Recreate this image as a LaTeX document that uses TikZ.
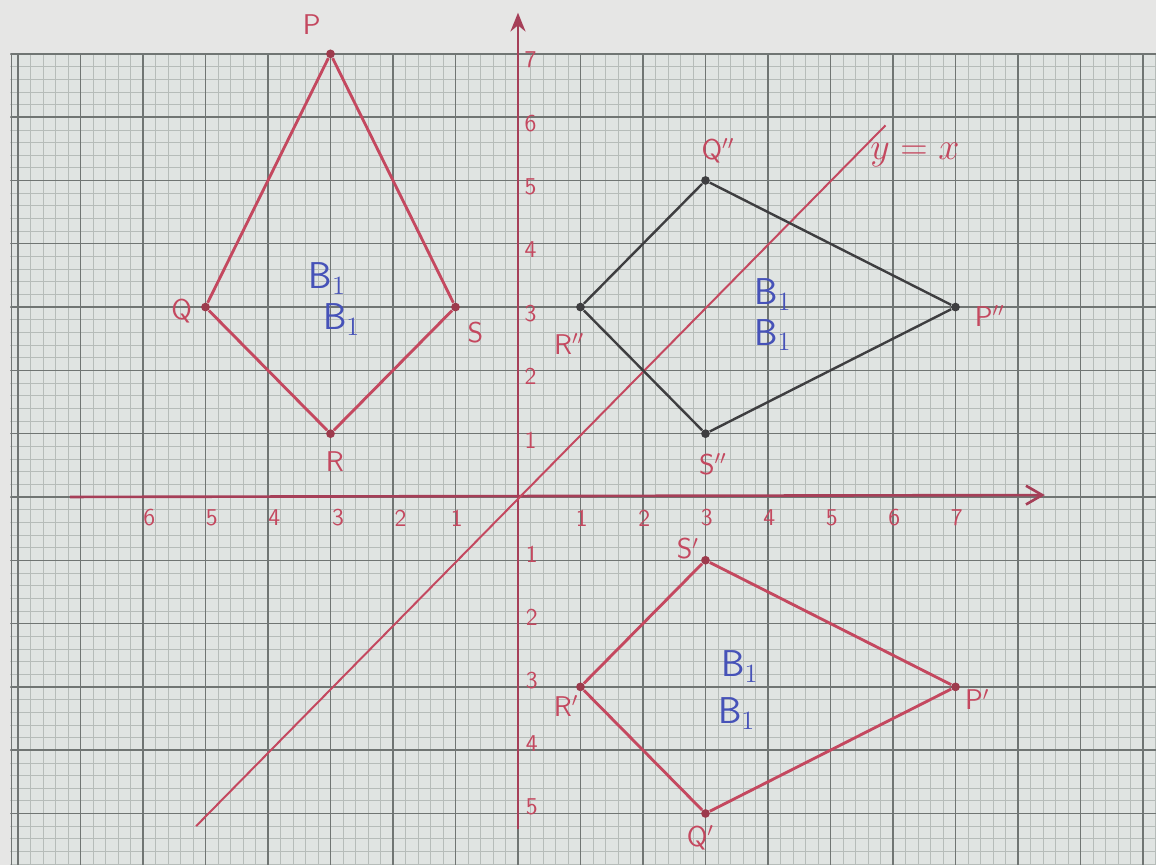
\documentclass[tikz,border=0pt]{standalone}
\usetikzlibrary{arrows.meta}
\definecolor{paper}{HTML}{E0E4E2}
\definecolor{bgtop}{HTML}{E6E6E5}
\definecolor{majorc}{HTML}{707573}
\definecolor{minorc}{HTML}{B6BCB9}
\definecolor{pen}{HTML}{C4485F}
\definecolor{axisc}{HTML}{A63F58}
\definecolor{darkc}{HTML}{3E3E40}
\definecolor{bluepen}{HTML}{4652B8}
\tikzset{
  redside/.style={pen, line width=1.3pt, line join=round},
  darkside/.style={darkc, line width=1.1pt, line join=round},
  reddot/.style={circle, fill=pen!80!black, inner sep=0pt, minimum size=0.14cm},
  darkdot/.style={circle, fill=darkc, inner sep=0pt, minimum size=0.14cm},
  lbl/.style={text=pen, font=\sffamily\fontsize{13}{15}\selectfont, inner sep=0pt},
  tick/.style={text=pen, font=\sffamily\fontsize{11}{13}\selectfont, inner sep=0pt},
  blbl/.style={text=bluepen, font=\sffamily\fontsize{17}{19}\selectfont, inner sep=0pt},
  axisline/.style={axisc, line width=1.2pt}
}
\begin{document}
\begin{tikzpicture}[x=1cm,y=1.0128cm]
\useasboundingbox (-8.288,-5.814) rectangle (10.208,7.851);
\fill[bgtop] (-8.288,-5.814) rectangle (10.208,7.851);
\fill[paper] (-8.1,-5.814) rectangle (10.208,7.0);
\begin{scope}
  \clip (-8.12,-5.814) rectangle (10.208,7.02);
  \draw[minorc, line width=0.28pt, step=0.2] (-8.2,-6) grid (10.4,7.0);
  \draw[majorc, line width=0.65pt, step=1] (-9,-6) grid (11,7);
  \draw[majorc, line width=0.65pt] (-8.1,-6) -- (-8.1,7);
\end{scope}

% axes
\coordinate (xl) at (-7.17,0);
\coordinate (xr) at (8.43,0.03);
\coordinate (yb) at (0,-5.25);
\coordinate (yt) at (0,7.65);
\draw[axisline, -{Straight Barb[length=2.6mm,width=3mm]}] (xl) -- (xr);
\draw[axisline, -{Stealth[length=3mm,width=2.4mm]}] (yb) -- (yt);

% axis numbers
\foreach \v/\x in {6/-5.9,5/-4.9,4/-3.9,3/-2.88,2/-1.88,1/-0.98}
  \node[tick] at (\x,-0.33) {\v};
\foreach \v in {1,...,7}
  \node[tick] at (\v+0.02,-0.33) {\v};
\foreach \v in {1,...,7}
  \node[tick] at (0.2,\v-0.1) {\v};
\foreach \v in {1,...,5}
  \node[tick] at (0.22,-\v+0.1) {\v};

% y = x
\coordinate (ya) at (-5.15,-5.2);
\coordinate (yb2) at (5.88,5.87);
\draw[pen, line width=0.9pt] (ya) -- (yb2);
\node[text=pen, font=\fontsize{19}{21}\selectfont, inner sep=0pt] (yx) at (6.35,5.4) {$y=x$};

% shape PQRS
\node[reddot] (P) at (-3,7) {};
\node[reddot] (Q) at (-5,3) {};
\node[reddot] (R) at (-3,1) {};
\node[reddot] (S) at (-1,3) {};
\draw[redside] (P) -- (S) -- (R) -- (Q) -- (P);
\node[lbl] (lP) at (-3.3,7.47) {P};
\node[lbl] (lQ) at (-5.38,2.94) {Q};
\node[lbl] (lR) at (-2.93,0.56) {R};
\node[lbl] (lS) at (-0.68,2.6) {S};
\node[blbl] (b1) at (-3.05,3.45) {B$_1$};
\node[blbl] (b2) at (-2.82,2.8) {B$_1$};

% shape P''Q''R''S''
\node[darkdot] (P2) at (7,3) {};
\node[darkdot] (Q2) at (3,5) {};
\node[darkdot] (R2) at (1,3) {};
\node[darkdot] (S2) at (3,1) {};
\draw[darkside] (Q2) -- (P2) -- (S2) -- (R2) -- (Q2);
\node[lbl] (lQ2) at (3.2,5.47) {Q$''$};
\node[lbl] (lP2) at (7.55,2.86) {P$''$};
\node[lbl] (lR2) at (0.82,2.42) {R$''$};
\node[lbl] (lS2) at (3.12,0.52) {S$''$};
\node[blbl] (b3) at (4.08,3.2) {B$_1$};
\node[blbl] (b4) at (4.08,2.56) {B$_1$};

% shape P'Q'R'S'
\node[reddot] (P1) at (7,-3) {};
\node[reddot] (Q1) at (3,-5) {};
\node[reddot] (R1) at (1,-3) {};
\node[reddot] (S1) at (3,-1) {};
\draw[redside] (S1) -- (P1) -- (Q1) -- (R1) -- (S1);
\node[lbl] (lS1) at (2.72,-0.82) {S$'$};
\node[lbl] (lR1) at (0.77,-3.3) {R$'$};
\node[lbl] (lP1) at (7.35,-3.2) {P$'$};
\node[lbl] (lQ1) at (2.92,-5.38) {Q$'$};
\node[blbl] (b5) at (3.55,-2.68) {B$_1$};
\node[blbl] (b6) at (3.5,-3.42) {B$_1$};
\end{tikzpicture}
\end{document}
